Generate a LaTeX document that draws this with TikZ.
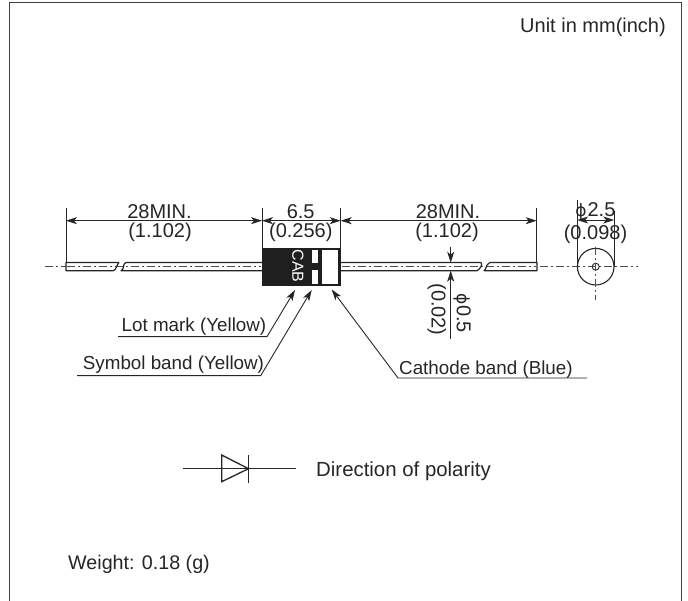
\documentclass[tikz,border=0pt]{standalone}
\usepackage{fontspec}
\setmainfont{Liberation Sans}
\newfontfamily\dejavu{DejaVu Sans}
\usetikzlibrary{arrows.meta}
\tikzset{
  ink/.style={draw=black!85,line width=1.3pt},
  thin ink/.style={draw=black!85,line width=0.9pt},
  dim/.style={thin ink,{Stealth[length=11pt,width=7pt,inset=3pt]}-{Stealth[length=11pt,width=7pt,inset=3pt]}},
  tipend/.style={thin ink,-{Stealth[length=11pt,width=7pt,inset=3pt]}},
  centre/.style={draw=black!70,line width=0.8pt,dash pattern=on 8pt off 3pt on 2pt off 3pt},
  lab/.style={font=\fontsize{20}{22}\selectfont,text=black!85,inner sep=0pt},
  leadlab/.style={font=\fontsize{18.8}{20}\selectfont,text=black!85,inner sep=0pt},
  lead/.style={draw=black!85,line width=1.2pt,line join=round}
}
\begin{document}
\begin{tikzpicture}[x=1pt,y=-1pt]
\useasboundingbox (0,0) rectangle (688,601);
\fill[white] (0,0) rectangle (688,601);
% frame
\draw[draw=black!75,line width=1pt] (9.5,601) -- (9.5,3) -- (681.5,3) -- (681.5,601);
\node[lab,anchor=east] (unit) at (666,27) {Unit in mm(inch)};
% centre lines
\draw[centre] (45,266.5) -- (66,266.5);
\draw[centre] (67,266.5) -- (261,266.5);
\draw[centre] (342,266.5) -- (536,266.5);
\draw[centre] (540,266.5) -- (638,266.5);
% left lead
\draw[lead] (119,262.5) -- (66,262.5) -- (66,270.7) -- (113,270.7) .. controls (116,270.7) and (116,266) .. (119,262.5);
\draw[lead] (262,262.5) -- (126,262.5) .. controls (122,264) and (125,269) .. (121,270.7) -- (262,270.7);
% right lead
\draw[lead] (341,262.5) -- (481,262.5) .. controls (483,265) and (480,269) .. (477,270.7) -- (341,270.7);
\draw[lead] (490,262.5) -- (537,262.5) -- (537,270.7) -- (484,270.7) .. controls (487,269) and (485,265) .. (490,262.5);
% body
\fill[black!88] (262,248.3) rectangle (341,285.7);
\fill[white] (322.3,250) rectangle (337.7,284);
\fill[white] (311.7,250) rectangle (317.7,263.3);
\fill[white] (311.7,270) rectangle (317.7,284);
\node[font=\fontsize{16}{17}\selectfont,text=white,rotate=-90,inner sep=0pt] (cab) at (298,266) {CAB};
% extension lines
\coordinate (e1) at (66,208); \coordinate (e1b) at (66,262.5);
\coordinate (e2) at (262,208); \coordinate (e2b) at (262,248.3);
\coordinate (e3) at (340.7,208); \coordinate (e3b) at (340.7,248.3);
\coordinate (e4) at (536.7,208); \coordinate (e4b) at (536.7,262.5);
\draw[thin ink] (e1) -- (e1b) (e2) -- (e2b) (e3) -- (e3b) (e4) -- (e4b);
\draw[dim] (e1|-0,220.7) -- (e2|-0,220.7);
\draw[dim] (e2|-0,220.7) -- (e3|-0,220.7);
\draw[dim] (e3|-0,220.7) -- (e4|-0,220.7);
\node[lab] (d1a) at (159.5,211.5) {28MIN.};
\node[lab] (d1b) at (160,232) {(1.102)};
\node[lab] (d2a) at (300.7,211.5) {6.5};
\node[lab] (d2b) at (300.8,232) {(0.256)};
\node[lab] (d3a) at (448,211.5) {28MIN.};
\node[lab] (d3b) at (447,232) {(1.102)};
% end view
\node[draw=black!85,line width=1.1pt,circle,minimum size=36.6pt,inner sep=0pt] (disc) at (595.7,266.7) {};
\node[draw=black!85,line width=0.9pt,circle,minimum size=7pt,inner sep=0pt] (wire) at (595.7,266.7) {};
\draw[centre] (595.7,247) -- (595.7,300);
\draw[thin ink] (577.2,200) -- (577.2,266.7);
\draw[thin ink] (614.2,211) -- (614.2,266.7);
\draw[dim] (577.2,220) -- (614.2,220);
\node[lab,anchor=base] (d4a) at (581,216.5) {\dejavu\fontsize{17}{18}\selectfont ϕ};
\node[lab,anchor=base] (d4c) at (601.5,216.5) {2.5};
\node[lab] (d4b) at (595.5,234) {(0.098)};
% wire diameter
\coordinate (w1) at (450.7,247); \coordinate (w2) at (450.7,339);
\draw[tipend] (w1) -- (450.7,262.7);
\draw[tipend] (w2) -- (450.7,270.7);
\node[lab,rotate=-90] (d5a) at (462,313.5) {{\dejavu\fontsize{17}{18}\selectfont ϕ}0.5};
\node[lab,rotate=-90] (d5b) at (436.7,309.5) {(0.02)};
% leaders
\node[leadlab,anchor=base west] (lot) at (121.5,332) {Lot mark (Yellow)};
\node[leadlab,anchor=base west] (sym) at (82.7,369.5) {Symbol band (Yellow)};
\node[leadlab,anchor=base west] (cat) at (399,374) {Cathode band (Blue)};
\draw[tipend] (118,336.7) -- (267,336.7) -- (295,290);
\draw[tipend] (77,375.7) -- (260.7,375.7) -- (311.7,290);
\draw[tipend] (587,378) -- (398,378) -- (331.7,289.5);
% diode symbol
\coordinate (da) at (182.7,468.7); \coordinate (db) at (295.7,468.7);
\draw[ink] (da) -- (db);
\draw[ink,line join=miter] (221.7,455) -- (248.5,468.7) -- (221.7,481.7) -- cycle;
\draw[ink] (248.5,455) -- (248.5,482.5);
\node[lab,anchor=base west,font=\fontsize{20.4}{22}\selectfont] (pol) at (316,476) {Direction of polarity};
\node[lab,anchor=base west,font=\fontsize{19.7}{21}\selectfont] (wgt) at (68,569.5) {Weight: 0.18 (g)};
\end{tikzpicture}
\end{document}
